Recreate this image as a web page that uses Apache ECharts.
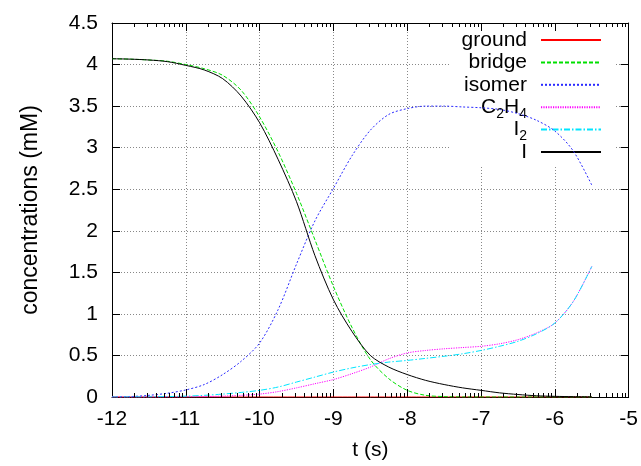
<!DOCTYPE html>
<html>
<head>
<meta charset="utf-8">
<script src="https://cdn.jsdelivr.net/npm/echarts@6/dist/echarts.min.js"></script>
<style>html,body{margin:0;padding:0;background:#fff;}#c{width:641px;height:466px;}</style>
</head>
<body>
<div id="c"></div>
<script>
// time grid, log10(t/s)
const t = [-12, -11.75, -11.5, -11.25, -11, -10.75, -10.5, -10.25, -10, -9.75, -9.5, -9.25, -9,
           -8.75, -8.5, -8.25, -8, -7.75, -7.5, -7.25, -7, -6.75, -6.5, -6.25, -6, -5.75, -5.5];
const ground = [0,0,0,0,0,0,0,0,0,0,0,0,0,0,0,0,0,0,0,0,0,0,0,0,0,0,0];
const bridge = [4.07, 4.065, 4.055, 4.04, 4.0, 3.95, 3.87, 3.69, 3.37, 2.95, 2.45, 1.89, 1.33,
                0.84, 0.45, 0.22, 0.08, 0.02, 0.005, 0.001, 0, 0, 0, 0, 0, 0, 0];
const isomer = [0.0, 0.005, 0.02, 0.045, 0.085, 0.15, 0.27, 0.43, 0.65, 1.05, 1.6, 2.12, 2.51,
                2.9, 3.21, 3.4, 3.47, 3.5, 3.5, 3.49, 3.48, 3.46, 3.41, 3.33, 3.2, 2.96, 2.55];
const c2h4 = [0, 0, 0, 0.001, 0.002, 0.005, 0.01, 0.02, 0.035, 0.065, 0.11, 0.16, 0.21,
              0.28, 0.36, 0.46, 0.53, 0.56, 0.58, 0.595, 0.61, 0.64, 0.69, 0.77, 0.89, 1.15, 1.57];
const i2 = [0, 0.001, 0.002, 0.005, 0.01, 0.02, 0.035, 0.055, 0.08, 0.12, 0.18, 0.24, 0.30,
            0.35, 0.39, 0.42, 0.44, 0.465, 0.49, 0.52, 0.56, 0.61, 0.67, 0.76, 0.89, 1.15, 1.57];
const iodine = [4.07, 4.065, 4.055, 4.035, 3.99, 3.935, 3.83, 3.62, 3.30, 2.86, 2.35, 1.70, 1.17,
                0.79, 0.50, 0.36, 0.27, 0.20, 0.15, 0.11, 0.08, 0.05, 0.03, 0.015, 0.008, 0.004, 0.002];

const xTicks = [-12, -11, -10, -9, -8, -7, -6, -5];
const yTicks = [0, 0.5, 1, 1.5, 2, 2.5, 3, 3.5, 4, 4.5];
const minorFactors = [2, 3, 4, 5, 6, 7, 8, 9];

const seriesNames = ['ground', 'bridge', 'isomer', 'C2H4', 'I2', 'I'];
const legendLabels = {
  'ground': '{m|ground}',
  'bridge': '{m|bridge}',
  'isomer': '{m|isomer}',
  'C2H4': '{m|C}{s|2}{m|H}{s|4}',
  'I2': '{m|I}{s|2}',
  'I': '{m|I}'
};

const FONT = 'Liberation Sans, Arial, Helvetica, sans-serif';
const FS = 21;

const minorTicks = [];
for (let n = xTicks[0]; n < xTicks[xTicks.length - 1]; n++) {
  minorFactors.forEach(k => minorTicks.push([n + Math.log10(k), 0]));
}

function mk(name, data, color, type) {
  return {
    name: name, type: 'line', data: t.map((x, i) => [x, data[i]]),
    symbol: 'none', showSymbol: false, smooth: 0.3, z: 2,
    lineStyle: { color: color, width: 1, type: type },
    itemStyle: { color: color },
    emphasis: { disabled: true }
  };
}

const chart = echarts.init(document.getElementById('c'), null, { renderer: 'canvas' });
chart.setOption({
  animation: false,
  backgroundColor: '#fff',
  textStyle: { fontFamily: FONT },
  grid: { left: 112, right: 12, top: 23, bottom: 69, containLabel: false },
  legend: {
    data: seriesNames,
    orient: 'vertical', align: 'right',
    right: 26, top: 25,
    padding: [0, 13, 0, 11],
    itemWidth: 60, itemHeight: 14, itemGap: -7.6,
    backgroundColor: '#fff',
    itemStyle: { opacity: 0, borderWidth: 0 },
    z: 1,
    formatter: n => legendLabels[n],
    textStyle: {
      fontFamily: FONT, fontSize: FS, color: '#000', lineHeight: 30, padding: [0, 9, 0, 0],
      rich: {
        m: { fontFamily: FONT, fontSize: FS, color: '#000', lineHeight: 30 },
        s: { fontFamily: FONT, fontSize: 14, color: '#000', lineHeight: 30, padding: [14, 0, 0, 0] }
      }
    }
  },
  xAxis: [{
    type: 'value', position: 'bottom', min: xTicks[0], max: xTicks[xTicks.length - 1], interval: 1,
    name: 't (s)', nameLocation: 'middle', nameGap: 43,
    nameTextStyle: { fontFamily: FONT, fontSize: FS, color: '#000' },
    axisLine: { show: true, onZero: false, lineStyle: { color: '#000', width: 1 } },
    axisTick: { show: true, inside: true, length: 8, lineStyle: { color: '#000' } },
    axisLabel: { fontFamily: FONT, fontSize: FS, color: '#000', margin: 12 },
    splitLine: { show: true, lineStyle: { color: '#888', type: [1, 2], width: 1 } },
    z: 0
  }, {
    type: 'value', position: 'top', min: xTicks[0], max: xTicks[xTicks.length - 1], interval: 1,
    axisLine: { show: true, onZero: false, lineStyle: { color: '#000', width: 1 } },
    axisTick: { show: true, inside: true, length: 8, lineStyle: { color: '#000' } },
    axisLabel: { show: false },
    splitLine: { show: false },
    z: 3
  }],
  yAxis: [{
    type: 'value', position: 'left', min: yTicks[0], max: yTicks[yTicks.length - 1], interval: 0.5,
    name: 'concentrations (mM)', nameLocation: 'middle', nameGap: 70,
    nameTextStyle: { fontFamily: FONT, fontSize: 23, color: '#000' },
    axisLine: { show: true, onZero: false, lineStyle: { color: '#000', width: 1 } },
    axisTick: { show: true, inside: true, length: 8, lineStyle: { color: '#000' } },
    axisLabel: { fontFamily: FONT, fontSize: FS, color: '#000', margin: 14 },
    splitLine: { show: true, lineStyle: { color: '#888', type: [1, 2], width: 1 } },
    z: 0
  }, {
    type: 'value', position: 'right', min: yTicks[0], max: yTicks[yTicks.length - 1], interval: 0.5,
    axisLine: { show: true, onZero: false, lineStyle: { color: '#000', width: 1 } },
    axisTick: { show: true, inside: true, length: 8, lineStyle: { color: '#000' } },
    axisLabel: { show: false },
    splitLine: { show: false },
    z: 3
  }],
  series: [
    mk('ground', ground, '#ff0000', 'solid'),
    mk('bridge', bridge, '#00e000', [4, 2]),
    mk('isomer', isomer, '#2a2aff', [2, 2]),
    mk('C2H4', c2h4, '#ff00ff', [1.2, 1.2]),
    mk('I2', i2, '#00e5ff', [6, 2, 1.5, 2]),
    mk('I', iodine, '#000000', 'solid'),
    {
      type: 'custom', name: 'minor ticks', data: minorTicks, z: 3, silent: true,
      clip: false,
      renderItem: function (params, api) {
        const x = Math.round(api.coord([api.value(0), 0])[0]) + 0.5;
        const cs = params.coordSys;
        const yb = cs.y + cs.height, yt = cs.y;
        return {
          type: 'group', children: [
            { type: 'line', shape: { x1: x, y1: yb, x2: x, y2: yb - 4 }, style: { stroke: '#000', lineWidth: 1 } },
            { type: 'line', shape: { x1: x, y1: yt, x2: x, y2: yt + 4 }, style: { stroke: '#000', lineWidth: 1 } }
          ]
        };
      }
    }
  ]
});
</script>
</body>
</html>
